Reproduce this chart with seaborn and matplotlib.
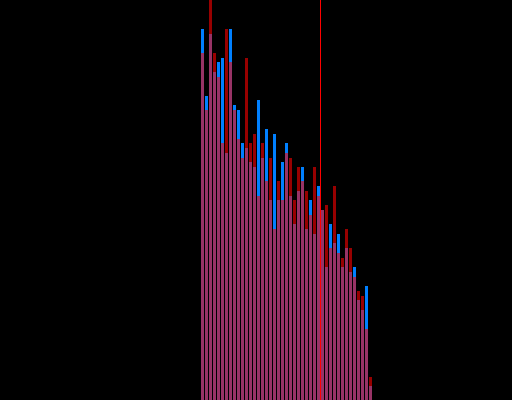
import seaborn as sns
import matplotlib.pyplot as plt
import pandas as pd

# bar heights (axis 0..100)
bins = list(range(43))
blue_vals = [92.8, 76.0, 91.5, 82.0, 84.5, 85.5, 61.8, 92.8, 73.8, 72.5,
             64.3, 63.0, 59.5, 58.3, 75.0, 60.5, 67.8, 50.0, 66.5, 50.0,
             59.5, 64.3, 51.0, 44.0, 52.3, 58.3, 42.8, 50.0, 41.5, 53.5,
             47.5, 33.3, 44.0, 39.3, 41.5, 33.3, 38.0, 32.0, 33.3, 25.0,
             22.5, 28.5, 3.5]
red_vals = [86.8, 72.5, 102.0, 86.8, 80.8, 64.3, 92.8, 84.5, 72.5, 65.3,
            60.5, 85.5, 64.3, 66.5, 51.0, 64.3, 54.8, 60.5, 42.8, 54.8,
            50.0, 61.8, 60.5, 50.0, 58.3, 54.8, 52.3, 46.3, 58.3, 51.0,
            47.5, 48.8, 38.0, 53.5, 36.8, 35.5, 42.8, 38.0, 30.8, 27.3,
            26.0, 17.8, 5.8]
marker_pos = 29.5

df = pd.DataFrame({'bin': bins, 'blue': blue_vals, 'red': red_vals})

fig = plt.figure(figsize=(5.12, 4.0), dpi=100, facecolor='black')
ax = fig.add_axes([0, 0, 1, 1])
ax.set_facecolor('black')

# blue series first, then translucent red on top
sns.barplot(x='bin', y='blue', data=df, ax=ax, color='#0080ff', saturation=1,
            width=0.75, linewidth=0, errorbar=None)
sns.barplot(x='bin', y='red', data=df, ax=ax, color='#ff0000', saturation=1,
            width=0.75, linewidth=0, alpha=0.6, errorbar=None)

# marker drawn as a one-pixel-wide filled strip so it stays crisp
ax.axvspan(marker_pos - 0.125, marker_pos + 0.125, color='#ff0000', lw=0, zorder=5)

ax.set_xlim(-50.625, 77.375)
ax.set_ylim(0, 100)
ax.set_axis_off()

plt.savefig('out.png', dpi=100, facecolor='black')
